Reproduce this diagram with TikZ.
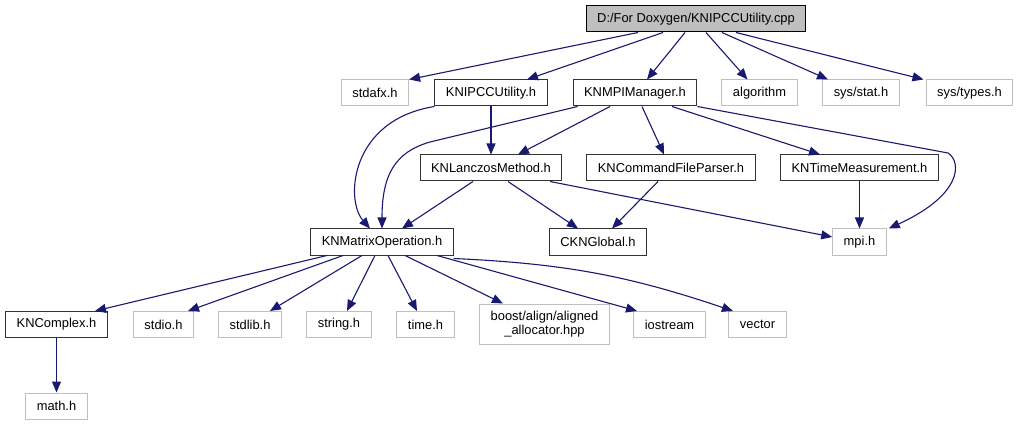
\documentclass[tikz,border=0pt]{standalone}
\usepackage{fontspec}
\setmainfont{Liberation Sans}
\usepackage{xcolor}
\usepackage{tikz}
\usetikzlibrary{arrows.meta}
\definecolor{edgeblue}{HTML}{191970}
\definecolor{sysgray}{HTML}{BFBFBF}
\tikzstyle{file}=[rectangle,draw=black,line width=1pt,inner xsep=11pt,inner ysep=0pt,minimum height=26pt,font=\fontsize{12.9}{14}\selectfont]
\tikzstyle{root}=[file,fill=sysgray]
\tikzstyle{proj}=[file,draw=black!80]
\tikzstyle{sys}=[file,draw=sysgray]
\tikzstyle{edge}=[draw=edgeblue,line width=1.1pt,-{Triangle[length=11pt,width=9pt]}]

\begin{document}
\begin{tikzpicture}[x=1pt,y=-1pt]
        \useasboundingbox (0,0) rectangle (1021,425);

        \node at (696,19)    [root] (top)       {D:/For Doxygen/KNIPCCUtility.cpp};
        \node at (375,93)    [sys]  (stdafx)    {stdafx.h};
        \node at (491,93)    [proj] (ipcc)      {KNIPCCUtility.h};
        \node at (635,93)    [proj] (mpimgr)    {KNMPIManager.h};
        \node at (759.5,93)  [sys]  (algo)      {algorithm};
        \node at (861,93)    [sys]  (sysstat)   {sys/stat.h};
        \node at (969.5,93)  [sys]  (systypes)  {sys/types.h};
        \node at (491,168)   [proj] (lanczos)   {KNLanczosMethod.h};
        \node at (671,168)   [proj] (cmdparser) {KNCommandFileParser.h};
        \node at (859.5,168) [proj] (timemeas)  {KNTimeMeasurement.h};
        \node at (382,242)   [proj] (matop)     {KNMatrixOperation.h};
        \node at (598,242)   [proj] (global)    {CKNGlobal.h};
        \node at (859.5,242) [sys]  (mpi)       {mpi.h};
        \node at (56.5,324.5)  [proj] (complex)  {KNComplex.h};
        \node at (163.5,324.5) [sys]  (stdio)    {stdio.h};
        \node at (250,324.5)   [sys]  (stdlib)   {stdlib.h};
        \node at (339,324.5)   [sys]  (string)   {string.h};
        \node at (425.5,324.5) [sys]  (time)     {time.h};
        \node at (544.5,324)   [sys,minimum height=40pt,align=center] (boost) {boost/align/aligned\\\_allocator.hpp};
        \node at (669.5,324.5) [sys]  (iostream) {iostream};
        \node at (757.5,324.5) [sys]  (vector)   {vector};
        \node at (56.5,406)    [sys]  (math)     {math.h};

        \draw [edge] ([xshift=-58pt]top.south) -- (stdafx.north east);
        \draw [edge] ([xshift=-33pt]top.south) -- ([xshift=36pt]ipcc.north);
        \draw [edge] ([xshift=-11pt]top.south) -- ([xshift=12pt]mpimgr.north);
        \draw [edge] ([xshift=10pt]top.south) -- ([xshift=-12pt]algo.north);
        \draw [edge] ([xshift=26pt]top.south) -- ([xshift=-33pt]sysstat.north);
        \draw [edge] ([xshift=40pt]top.south) -- ([xshift=-46pt]systypes.north);

        \draw [edge] (ipcc.south) -- (lanczos.north);
        \draw [edge] (ipcc.south west) .. controls (350,120) and (345,200) .. ([xshift=-12pt]matop.north);

        \draw [edge] ([xshift=5pt]mpimgr.south west) -- (430,142) .. controls (395,152) and (382,175) .. (matop.north);
        \draw [edge] ([xshift=-25pt]mpimgr.south) -- ([xshift=27pt]lanczos.north);
        \draw [edge] ([xshift=7pt]mpimgr.south) -- ([xshift=-7pt]cmdparser.north);
        \draw [edge] ([xshift=37pt]mpimgr.south) -- ([xshift=-39.5pt]timemeas.north);
        \draw [edge] (mpimgr.south east) -- (948,153) .. controls (962,162) and (962,195) .. ([xshift=2pt]mpi.north east);

        \draw [edge] ([xshift=-18pt]lanczos.south) -- ([xshift=20pt]matop.north);
        \draw [edge] ([xshift=17pt]lanczos.south) -- ([xshift=-20pt]global.north);
        \draw [edge] ([xshift=59pt]lanczos.south) -- ([yshift=5pt]mpi.west);
        \draw [edge] ([xshift=-13pt]cmdparser.south) -- ([xshift=14pt]global.north);
        \draw [edge] (timemeas.south) -- (mpi.north);

        \draw [edge] ([xshift=-55pt]matop.south) -- ([xshift=38.5pt]complex.north);
        \draw [edge] ([xshift=-39pt]matop.south) -- ([xshift=24.5pt]stdio.north);
        \draw [edge] ([xshift=-20pt]matop.south) -- ([xshift=20pt]stdlib.north);
        \draw [edge] ([xshift=-7pt]matop.south) -- ([xshift=8pt]string.north);
        \draw [edge] ([xshift=6pt]matop.south) -- ([xshift=-8.5pt]time.north);
        \draw [edge] ([xshift=23pt]matop.south) -- ([xshift=-41.5pt]boost.north);
        \draw [edge] ([xshift=55pt]matop.south) -- ([xshift=-32.5pt]iostream.north);
        \draw [edge] ([yshift=-3pt]matop.south east) to[bend left=8] ([xshift=-24.5pt]vector.north);

        \draw [edge] (complex.south) -- (math.north);
      \end{tikzpicture}
\end{document}
